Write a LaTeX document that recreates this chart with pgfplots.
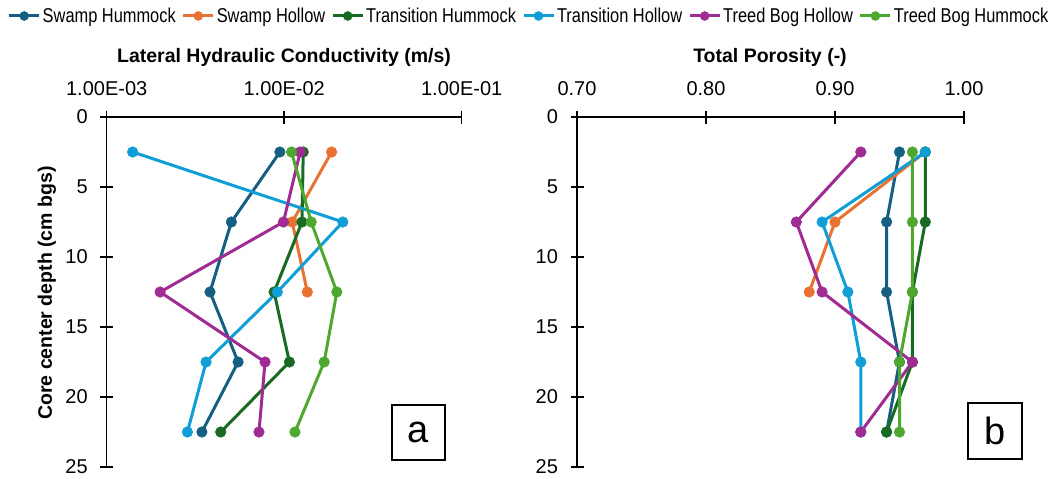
\documentclass[border=0pt]{standalone}
\usepackage{fontspec}
\setmainfont{Liberation Sans}
\newfontfamily\legfont[FakeStretch=0.82]{Liberation Sans}
\usepackage{pgfplots}
\pgfplotsset{compat=1.18}
\definecolor{cSwHum}{HTML}{156082}
\definecolor{cSwHol}{HTML}{E97132}
\definecolor{cTrHum}{HTML}{196B24}
\definecolor{cTrHol}{HTML}{0F9ED5}
\definecolor{cTBHol}{HTML}{A02B93}
\definecolor{cTBHum}{HTML}{4EA72E}
\pgfplotsset{
 myax/.style={
  scale only axis, height=350pt,
  y dir=reverse, ymin=0, ymax=25, ytick={0,5,...,25},
  axis x line*=top, axis y line*=left,
  xtick align=center, ytick align=center, major tick length=13pt,
  tick style={black, line width=1.5pt},
  axis line style={black, line width=1.5pt},
  every axis plot/.append style={line width=3pt, mark=*, mark size=5.3pt, mark options={solid, line width=0.5pt}},
  tick label style={font=\fontsize{20}{24}\selectfont},
  xticklabel style={yshift=11pt},
  yticklabel style={xshift=-9pt},
  /pgf/number format/assume math mode=true,
  clip=false,
  legend image code/.code={\draw[mark repeat=2, mark phase=2, mark size=4.5pt] plot coordinates {(0pt,0pt) (15pt,0pt) (30pt,0pt)};},
 }
}
\begin{document}
\begin{tikzpicture}
\begin{axis}[myax, name=left, at={(106.7pt,-467pt)}, anchor=south west,
  width=355pt, xmode=log, xmin=0.001, xmax=0.1,
  xtick={0.001,0.01,0.1}, xticklabels={1.00E-03,1.00E-02,1.00E-01},
  legend style={at={(1.1896,1.2886)}, anchor=center, draw=none, fill=none,
    legend columns=-1, font=\legfont\fontsize{20}{24}\selectfont,
    /tikz/every even column/.append style={column sep=4pt}},
  ]
\addplot[cSwHum] coordinates {(9.46e-3,2.5)(5.04e-3,7.5)(3.82e-3,12.5)(5.5e-3,17.5)(3.44e-3,22.5)};
\addlegendentry{Swamp Hummock}
\addplot[cSwHol] coordinates {(1.85e-2,2.5)(1.11e-2,7.5)(1.35e-2,12.5)};
\addlegendentry{Swamp Hollow}
\addplot[cTrHum] coordinates {(1.28e-2,2.5)(1.26e-2,7.5)(8.77e-3,12.5)(1.07e-2,17.5)(4.39e-3,22.5)};
\addlegendentry{Transition Hummock}
\addplot[cTrHol] coordinates {(1.40e-3,2.5)(2.14e-2,7.5)(9.15e-3,12.5)(3.63e-3,17.5)(2.85e-3,22.5)};
\addlegendentry{Transition Hollow}
\addplot[cTBHol] coordinates {(1.23e-2,2.5)(9.9e-3,7.5)(2.0e-3,12.5)(7.8e-3,17.5)(7.21e-3,22.5)};
\addlegendentry{Treed Bog Hollow}
\addplot[cTBHum] coordinates {(1.10e-2,2.5)(1.42e-2,7.5)(1.98e-2,12.5)(1.68e-2,17.5)(1.15e-2,22.5)};
\addlegendentry{Treed Bog Hummock}
\end{axis}
\begin{axis}[myax, name=right, at={(577pt,-467pt)}, anchor=south west,
  width=387pt, xmin=0.7, xmax=1.0,
  xtick={0.7,0.8,0.9,1.0}, xticklabels={0.70,0.80,0.90,1.00},
  ]
\addplot[cSwHum] coordinates {(0.95,2.5)(0.94,7.5)(0.94,12.5)(0.95,17.5)(0.94,22.5)};
\addplot[cSwHol] coordinates {(0.97,2.5)(0.90,7.5)(0.88,12.5)};
\addplot[cTrHum] coordinates {(0.97,2.5)(0.97,7.5)(0.96,12.5)(0.96,17.5)(0.94,22.5)};
\addplot[cTrHol] coordinates {(0.97,2.5)(0.89,7.5)(0.91,12.5)(0.92,17.5)(0.92,22.5)};
\addplot[cTBHol] coordinates {(0.92,2.5)(0.87,7.5)(0.89,12.5)(0.96,17.5)(0.92,22.5)};
\addplot[cTBHum] coordinates {(0.96,2.5)(0.96,7.5)(0.96,12.5)(0.95,17.5)(0.95,22.5)};
\end{axis}
\node[font=\bfseries\fontsize{19.5}{22}\selectfont] at (284pt,-57pt) {Lateral Hydraulic Conductivity (m/s)};
\node[font=\bfseries\fontsize{19.5}{22}\selectfont] at (770pt,-57pt) {Total Porosity (-)};
\node[font=\bfseries\fontsize{19.5}{22}\selectfont, rotate=90] at (47pt,-293pt) {Core center depth (cm bgs)};
\node[draw, line width=2pt, minimum width=53pt, minimum height=55pt, inner sep=0pt, font=\fontsize{38}{40}\selectfont] at (418.5pt,-432.5pt) {a};
\node[draw, line width=2pt, minimum width=54pt, minimum height=56pt, inner sep=0pt, font=\fontsize{38}{40}\selectfont] at (995pt,-431pt) {b};
\pgfresetboundingbox
\path (0pt,0pt) rectangle (1058pt,-479pt);
\end{tikzpicture}
\end{document}
